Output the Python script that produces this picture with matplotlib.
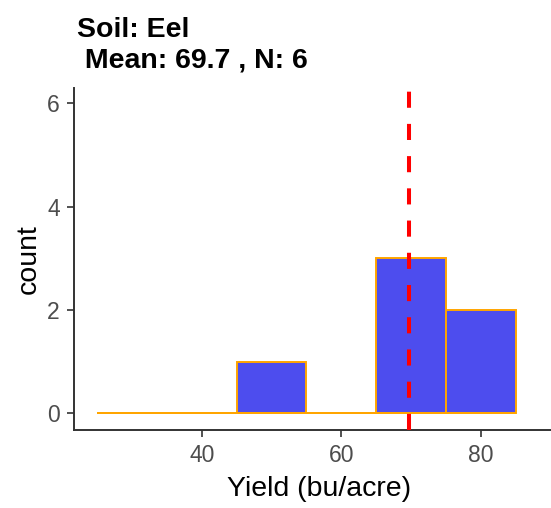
import matplotlib
matplotlib.use("Agg")
import matplotlib.pyplot as plt
import numpy as np

# Data
bin_edges = [25, 35, 45, 55, 65, 75, 85]
counts = [0, 0, 1, 0, 3, 2]
mean_val = 69.7
n_obs = 6
soil = "Eel"
x_ticks = [40, 60, 80]
y_ticks = [0, 2, 4, 6]

plt.rcParams['font.family'] = ['Liberation Sans', 'DejaVu Sans']

fig = plt.figure(figsize=(5.51, 5.08), dpi=100)
ax = fig.add_axes([74/551, 1-430/508, (564-74)/551, (430-88)/508])

edges = np.array(bin_edges, dtype=float)
lefts = edges[:-1]
widths = np.diff(edges)
ax.bar(lefts, counts, width=widths, align='edge', color='#4D4DEE',
       edgecolor='#FFA500', linewidth=1.4, zorder=2)
ax.hlines(0, edges[0], edges[-1], color='#FFA500', linewidth=1.4, zorder=2)

ax.axvline(mean_val, color='#FF0000', linewidth=2.9, linestyle=(0, (4, 4)),
           dash_capstyle='butt', zorder=3)

ax.set_xlim(21.7, 91.9)
ax.set_ylim(-0.32, 6.3)
ax.set_xticks(x_ticks)
ax.set_yticks(y_ticks)

for s in ['top', 'right']:
    ax.spines[s].set_visible(False)
for s in ['left', 'bottom']:
    ax.spines[s].set_color('#333333')
    ax.spines[s].set_linewidth(1.4)

ax.tick_params(axis='both', colors='#333333', length=5, width=1.2,
               labelsize=16.5, labelcolor='#4D4D4D', pad=5.3)
ax.set_xlabel('Yield (bu/acre)', fontsize=20.5, color='black', labelpad=6)
ax.set_ylabel('count', fontsize=20.5, color='black', labelpad=4)

fig.text(77/551, 1-17/508, f"Soil: {soil}\n Mean: {mean_val} , N: {n_obs}",
         fontsize=20.5, fontweight='bold', ha='left', va='top', linespacing=1.23)

fig.savefig('out.png', dpi=100)
